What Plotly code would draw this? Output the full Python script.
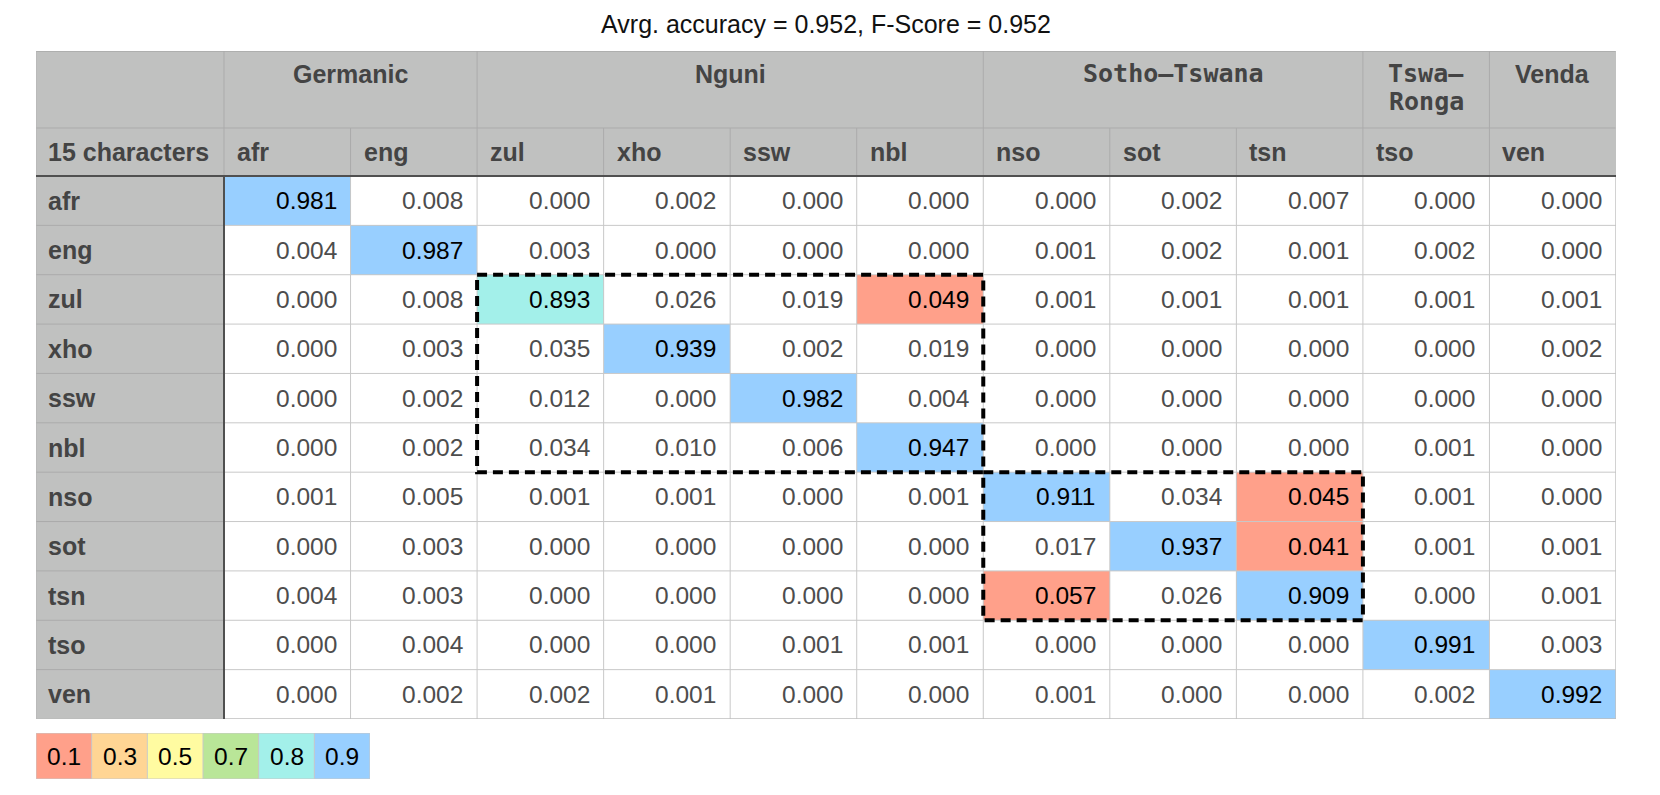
import plotly.graph_objects as go

# ---------------- data ----------------
TITLE = "Avrg. accuracy = 0.952, F-Score = 0.952"
CORNER_LABEL = "15 characters"
LANGS = ["afr", "eng", "zul", "xho", "ssw", "nbl", "nso", "sot", "tsn", "tso", "ven"]
GROUP_NAMES = ["Germanic", "Nguni", "Sotho—Tswana", "Tswa—\nRonga", "Venda"]
GROUP_SIZES = [2, 4, 3, 1, 1]
GROUP_MONO = [False, False, True, True, False]
BOXED_GROUPS = [1, 2]          # groups outlined with a dashed box

ROW_AFR = [0.981, 0.008, 0.000, 0.002, 0.000, 0.000, 0.000, 0.002, 0.007, 0.000, 0.000]
ROW_ENG = [0.004, 0.987, 0.003, 0.000, 0.000, 0.000, 0.001, 0.002, 0.001, 0.002, 0.000]
ROW_ZUL = [0.000, 0.008, 0.893, 0.026, 0.019, 0.049, 0.001, 0.001, 0.001, 0.001, 0.001]
ROW_XHO = [0.000, 0.003, 0.035, 0.939, 0.002, 0.019, 0.000, 0.000, 0.000, 0.000, 0.002]
ROW_SSW = [0.000, 0.002, 0.012, 0.000, 0.982, 0.004, 0.000, 0.000, 0.000, 0.000, 0.000]
ROW_NBL = [0.000, 0.002, 0.034, 0.010, 0.006, 0.947, 0.000, 0.000, 0.000, 0.001, 0.000]
ROW_NSO = [0.001, 0.005, 0.001, 0.001, 0.000, 0.001, 0.911, 0.034, 0.045, 0.001, 0.000]
ROW_SOT = [0.000, 0.003, 0.000, 0.000, 0.000, 0.000, 0.017, 0.937, 0.041, 0.001, 0.001]
ROW_TSN = [0.004, 0.003, 0.000, 0.000, 0.000, 0.000, 0.057, 0.026, 0.909, 0.000, 0.001]
ROW_TSO = [0.000, 0.004, 0.000, 0.000, 0.001, 0.001, 0.000, 0.000, 0.000, 0.991, 0.003]
ROW_VEN = [0.000, 0.002, 0.002, 0.001, 0.000, 0.000, 0.001, 0.000, 0.000, 0.002, 0.992]
VALUES = [ROW_AFR, ROW_ENG, ROW_ZUL, ROW_XHO, ROW_SSW, ROW_NBL,
          ROW_NSO, ROW_SOT, ROW_TSN, ROW_TSO, ROW_VEN]

LEGEND_LABELS = ["0.1", "0.3", "0.5", "0.7", "0.8", "0.9"]
LEGEND_THRESHOLDS = [0.1, 0.3, 0.5, 0.7, 0.8, 0.9]
ERROR_LEVEL = 0.04             # off-diagonal confusions at or above this get the first colour

# ---------------- style ----------------
LEGEND_COLORS = ["#FFA08A", "#FFD594", "#FFFBA1", "#B9E698", "#A3F0EA", "#98CFFF"]
WHITE = "#FFFFFF"
HEADER_GRAY = "#C0C1C0"
GRID = "#C8C8C8"
HEADER_GRID = "#ABABAB"
DARK_LINE = "#505050"
HEADER_TEXT = "#444444"
CELL_TEXT = "#4D4D4D"
SANS = "Liberation Sans"
MONO = "DejaVu Sans Mono"
VAL_SIZE, HDR_SIZE, MONO_SIZE, LEG_SIZE, TITLE_SIZE = 24.5, 25, 25, 24.5, 25

W, H = 1660, 795
TABLE_LEFT, TABLE_RIGHT, TABLE_TOP, TABLE_BOTTOM = 36, 1616, 51, 719
HDR_W_PX = 188.0
N = len(LANGS)
COL_W_PX = (TABLE_RIGHT - TABLE_LEFT - HDR_W_PX) / N
GROUP_H_PX, SUB_H_PX = 77.0, 48.0
ROW_H_PX = (TABLE_BOTTOM - TABLE_TOP - GROUP_H_PX - SUB_H_PX) / N

HDR_W = HDR_W_PX / COL_W_PX          # in column units
SUB_H = SUB_H_PX / ROW_H_PX          # in row units
GRP_H = GROUP_H_PX / ROW_H_PX
Y_TOP = -(SUB_H + GRP_H)

# ---------------- cell classes ----------------
def cell_class(i, j, v):
    if i == j:
        k = 0
        for t_idx, t in enumerate(LEGEND_THRESHOLDS):
            if v >= t:
                k = t_idx + 1
        return k
    return 1 if v >= ERROR_LEVEL else 0

NCLS = len(LEGEND_COLORS) + 2   # 0 white, 1..6 legend, 7 header gray
HEADER_CLS = NCLS - 1
palette = [WHITE] + LEGEND_COLORS + [HEADER_GRAY]
colorscale = []
for k, c in enumerate(palette):
    colorscale.append([k / NCLS, c])
    colorscale.append([(k + 1) / NCLS, c])

x_edges = [-HDR_W] + list(range(N + 1))
y_edges = [Y_TOP, -SUB_H] + list(range(N + 1))
z = []
z.append([HEADER_CLS] * (N + 1))
z.append([HEADER_CLS] * (N + 1))
for i in range(N):
    z.append([HEADER_CLS] + [cell_class(i, j, VALUES[i][j]) for j in range(N)])

fig = go.Figure()
fig.add_trace(go.Heatmap(
    x=x_edges, y=y_edges, z=z, colorscale=colorscale, zmin=-0.5, zmax=NCLS - 0.5,
    showscale=False, hoverinfo="skip", xaxis="x", yaxis="y"))

# legend strip
fig.add_trace(go.Heatmap(
    x=list(range(len(LEGEND_LABELS) + 1)), y=[0, 1],
    z=[[k + 1 for k in range(len(LEGEND_LABELS))]],
    colorscale=colorscale, zmin=-0.5, zmax=NCLS - 0.5,
    showscale=False, hoverinfo="skip", xaxis="x2", yaxis="y2"))

shapes = []
def line(x0, y0, x1, y1, color, width, xref="x", yref="y", dash=None):
    d = dict(type="line", x0=x0, y0=y0, x1=x1, y1=y1, xref=xref, yref=yref,
             line=dict(color=color, width=width), layer="above")
    if dash:
        d["line"]["dash"] = dash
    shapes.append(d)

# data grid
for j in range(1, N + 1):
    line(j, 0, j, N, GRID, 1)
for i in range(1, N + 1):
    line(0, i, N, i, GRID, 1)
# row header separators
for i in range(1, N):
    line(-HDR_W, i, 0, i, HEADER_GRID, 1)
# sub header vertical separators
for j in range(1, N):
    line(j, -SUB_H, j, 0, HEADER_GRID, 1)
# group separators
bounds = [0]
for s in GROUP_SIZES:
    bounds.append(bounds[-1] + s)
for b in bounds[:-1]:
    line(b, Y_TOP, b, -SUB_H, HEADER_GRID, 1)
line(0, -SUB_H, 0, 0, HEADER_GRID, 1)
line(-HDR_W, -SUB_H, N, -SUB_H, HEADER_GRID, 1)
# outer border
line(-HDR_W, Y_TOP, N, Y_TOP, "#A8A8A8", 1.5)
line(-HDR_W, Y_TOP, -HDR_W, N, "#B4B4B4", 1)
line(N, Y_TOP, N, N, "#C0C0C0", 1)
line(-HDR_W, N, N, N, "#B8B8B8", 1)
# dark separators
line(-HDR_W, 0, N, 0, DARK_LINE, 2.2)
line(0, 0, 0, N, DARK_LINE, 2)

# dashed boxes
for g in BOXED_GROUPS:
    a, b = bounds[g], bounds[g + 1]
    shapes.append(dict(type="rect", x0=a, x1=b, y0=a, y1=b, xref="x", yref="y",
                       line=dict(color="black", width=4, dash="10px,6px"),
                       fillcolor="rgba(0,0,0,0)", layer="above"))

# legend borders
nl = len(LEGEND_LABELS)
for k in range(nl + 1):
    line(k, 0, k, 1, GRID, 1, "x2", "y2")
line(0, 0, nl, 0, GRID, 1, "x2", "y2")
line(0, 1, nl, 1, GRID, 1, "x2", "y2")

ann = []
PAD_R = 12 / COL_W_PX
PAD_L = 11 / COL_W_PX
PAD_ROW = 10 / COL_W_PX
for i in range(N):
    for j in range(N):
        cls = cell_class(i, j, VALUES[i][j])
        ann.append(dict(x=j + 1 - PAD_R, y=i + 0.5, text=f"{VALUES[i][j]:.3f}",
                        xanchor="right", yanchor="middle", showarrow=False,
                        font=dict(family=SANS, size=VAL_SIZE,
                                  color="#000000" if cls else CELL_TEXT)))
    ann.append(dict(x=-HDR_W + PAD_ROW, y=i + 0.5, text=f"<b>{LANGS[i]}</b>",
                    xanchor="left", yanchor="middle", showarrow=False,
                    font=dict(family=SANS, size=HDR_SIZE, color=HEADER_TEXT)))
for j in range(N):
    ann.append(dict(x=j + PAD_L, y=-SUB_H / 2, text=f"<b>{LANGS[j]}</b>",
                    xanchor="left", yanchor="middle", showarrow=False,
                    font=dict(family=SANS, size=HDR_SIZE, color=HEADER_TEXT)))
ann.append(dict(x=-HDR_W + PAD_ROW, y=-SUB_H / 2, text=f"<b>{CORNER_LABEL}</b>",
                xanchor="left", yanchor="middle", showarrow=False,
                font=dict(family=SANS, size=HDR_SIZE, color=HEADER_TEXT)))
for g, name in enumerate(GROUP_NAMES):
    cx = (bounds[g] + bounds[g + 1]) / 2
    for k, part in enumerate(name.split("\n")):
        ann.append(dict(x=cx, y=Y_TOP + (23 + 28 * k) / ROW_H_PX, text=f"<b>{part}</b>",
                        xanchor="center", yanchor="middle", showarrow=False,
                        font=dict(family=MONO if GROUP_MONO[g] else SANS,
                                  size=MONO_SIZE if GROUP_MONO[g] else HDR_SIZE,
                                  color=HEADER_TEXT)))
for k, lab in enumerate(LEGEND_LABELS):
    ann.append(dict(x=k + 0.5, y=0.5, xref="x2", yref="y2", text=lab,
                    xanchor="center", yanchor="middle", showarrow=False,
                    font=dict(family=SANS, size=LEG_SIZE, color="#000000")))

LEG_L, LEG_R, LEG_T, LEG_B = 36, 370, 733, 779

fig.update_layout(
    width=W, height=H, margin=dict(l=0, r=0, t=0, b=0),
    paper_bgcolor="white", plot_bgcolor="white",
    title=dict(text=TITLE, x=((TABLE_LEFT + TABLE_RIGHT) / 2) / W, xanchor="center",
               y=1 - 24 / H, yanchor="middle", xref="paper", yref="paper",
               font=dict(family=SANS, size=TITLE_SIZE, color="#111111")),
    xaxis=dict(domain=[TABLE_LEFT / W, TABLE_RIGHT / W], range=[-HDR_W, N],
               visible=False, fixedrange=True),
    yaxis=dict(domain=[1 - TABLE_BOTTOM / H, 1 - TABLE_TOP / H], range=[N, Y_TOP],
               visible=False, fixedrange=True),
    xaxis2=dict(domain=[LEG_L / W, LEG_R / W], range=[0, nl], visible=False,
                fixedrange=True, anchor="y2"),
    yaxis2=dict(domain=[1 - LEG_B / H, 1 - LEG_T / H], range=[1, 0], visible=False,
                fixedrange=True, anchor="x2"),
    shapes=shapes, annotations=ann, showlegend=False,
)

fig.write_html("out.html",
               config={"displayModeBar": False},
               post_script="document.body.style.margin='0px';"
                           "document.documentElement.style.overflow='hidden';")
